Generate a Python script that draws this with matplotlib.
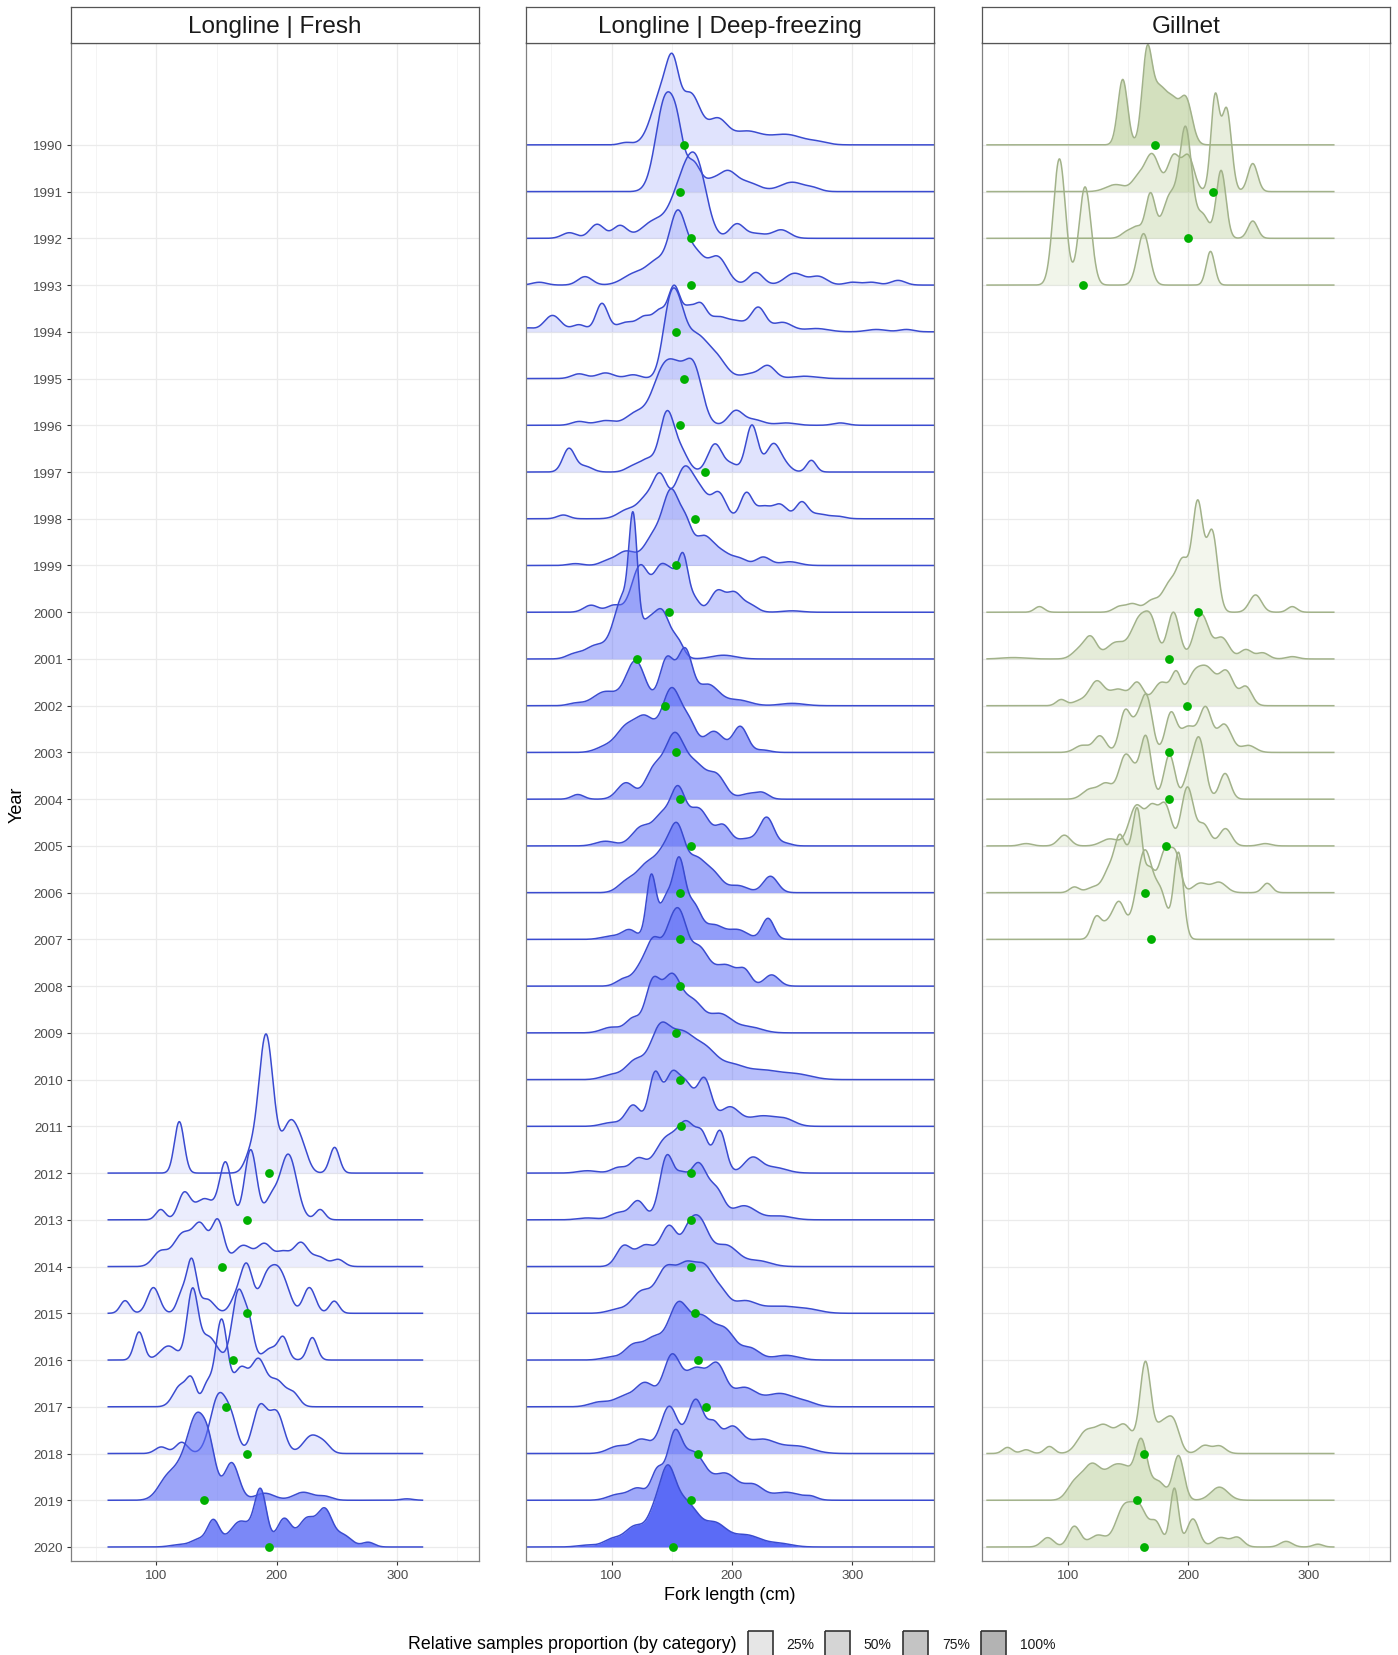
import numpy as np
import matplotlib
matplotlib.use("Agg")
import matplotlib.pyplot as plt
from matplotlib.patches import Rectangle

plt.rcParams["font.family"] = ["Liberation Sans", "DejaVu Sans"]

# ---- data ---------------------------------------------------------------
# every ridge is a small set of bumps: (fork length cm, height in rows, width cm)
all_years = list(range(1990, 2021))

fresh_years = list(range(2012, 2021))
fresh_peaks = [
    [(119, 1.1, 4), (178, 0.35, 5), (191, 2.95, 6), (211.5, 1.1, 7), (222, 0.3, 5), (248, 0.55, 4)],
    [(103.6, 0.22, 4), (123, 0.55, 5), (140, 0.45, 8), (157.5, 1.2, 5), (178.3, 1.5, 5), (195, 0.4, 5), (209.5, 1.4, 7), (236, 0.22, 4)],
    [(103, 0.3, 6), (122, 0.7, 8), (137, 0.8, 6), (151, 0.95, 5), (172, 0.45, 8), (190, 0.45, 6), (205, 0.3, 6), (220, 0.5, 6), (235, 0.2, 6), (251, 0.15, 5)],
    [(74, 0.27, 4), (97.5, 0.55, 5), (121, 0.4, 4), (129.3, 1.1, 4), (142, 0.3, 6), (166, 0.3, 5), (175, 1.0, 5), (192, 0.8, 6), (201, 0.6, 5), (208, 0.4, 5), (227, 0.55, 5), (247.7, 0.26, 4)],
    [(85.6, 0.6, 4), (110, 0.3, 7), (129.9, 1.45, 4.5), (143, 0.5, 7), (168, 1.45, 5), (177, 0.7, 4), (195, 0.25, 6), (205.4, 0.45, 4), (229.5, 0.48, 4)],
    [(120, 0.45, 6), (129.3, 0.5, 4), (142, 0.45, 4), (154, 1.85, 5), (170, 0.8, 6), (184.6, 0.95, 6), (200, 0.55, 7), (214, 0.25, 5)],
    [(104, 0.14, 5), (121, 0.24, 5), (152, 1.25, 7), (163, 0.5, 5), (186, 1.0, 6), (200, 0.85, 6), (229, 0.38, 7), (240, 0.15, 5)],
    [(110, 0.5, 8), (124, 0.7, 7), (133, 1.25, 6), (143, 1.2, 6), (162.5, 0.8, 6), (190, 0.15, 8), (222, 0.17, 8), (240, 0.08, 6), (308, 0.03, 5)],
    [(120, 0.05, 8), (135, 0.15, 6), (147.3, 0.55, 5), (170, 0.55, 9), (186.6, 1.15, 5), (206, 0.6, 6), (225, 0.6, 7), (240, 0.75, 6), (255, 0.25, 7), (276, 0.1, 5)],
]
fresh_mean = [193.5, 175.2, 154.2, 175.2, 163.9, 157.5, 175.2, 139.6, 193.5]
fresh_prop = [0.02, 0.02, 0.02, 0.02, 0.03, 0.03, 0.05, 0.56, 0.78]

deep_years = list(range(1990, 2021))
deep_peaks = [
    [(112, 0.05, 5), (143, 1.2, 9), (151, 0.95, 5), (166, 1.05, 8), (188, 0.52, 8), (212, 0.28, 12), (245, 0.22, 14), (272, 0.05, 8)],
    [(145, 2.0, 8), (155, 0.7, 5), (168, 0.6, 6), (183, 0.2, 6), (196, 0.38, 7), (212, 0.2, 10), (250, 0.2, 10), (268, 0.06, 6)],
    [(65, 0.12, 6), (88, 0.3, 6), (107, 0.27, 6), (135, 0.35, 10), (160, 1.2, 10), (172, 1.1, 8), (204, 0.3, 6), (220, 0.1, 8), (241, 0.18, 7)],
    [(40, 0.06, 6), (78, 0.18, 6), (120, 0.25, 10), (138, 0.45, 8), (155, 1.5, 7), (170, 0.6, 7), (188, 0.6, 8), (220, 0.27, 6), (252, 0.25, 8), (272, 0.18, 7), (300, 0.06, 6), (316, 0.06, 6), (338, 0.1, 6)],
    [(30, 0.08, 6), (51, 0.35, 7), (73, 0.15, 6), (92, 0.6, 5), (112, 0.2, 8), (128, 0.3, 6), (140, 0.4, 5), (152, 0.95, 5), (164, 0.45, 5), (174, 0.5, 5), (188, 0.3, 8), (205, 0.2, 8), (222, 0.5, 6), (242, 0.2, 8), (270, 0.07, 10), (320, 0.05, 8), (345, 0.05, 6)],
    [(73, 0.1, 6), (95, 0.12, 7), (118, 0.08, 6), (148, 1.3, 6), (156, 0.9, 6), (170, 0.9, 10), (188, 0.35, 8), (216, 0.1, 8), (230, 0.26, 6), (260, 0.05, 10)],
    [(73, 0.08, 6), (95, 0.1, 8), (120, 0.25, 8), (142, 1.0, 9), (156, 0.9, 9), (169, 1.0, 7), (203, 0.3, 6), (218, 0.12, 8), (245, 0.05, 8), (290, 0.05, 6)],
    [(64.6, 0.5, 5), (78, 0.12, 6), (118, 0.12, 6), (130, 0.25, 6), (146, 1.25, 6), (158, 0.4, 6), (186, 0.6, 6), (200, 0.15, 5), (216.6, 1.0, 5), (234.5, 0.6, 6), (245, 0.1, 5), (266, 0.25, 4)],
    [(60, 0.08, 5), (114, 0.2, 8), (128, 0.35, 6), (140, 0.9, 6), (161, 1.1, 8), (175, 0.4, 6), (189, 0.55, 6), (212, 0.55, 5), (226, 0.25, 6), (240, 0.3, 6), (258, 0.35, 5), (272, 0.1, 7), (288, 0.05, 6)],
    [(70, 0.04, 6), (96, 0.08, 6), (112, 0.3, 8), (135, 0.6, 8), (150, 1.5, 7), (162, 0.6, 5), (176, 0.6, 8), (192, 0.25, 8), (207, 0.12, 6), (226, 0.18, 6), (248, 0.08, 8)],
    [(83, 0.15, 6), (102, 0.15, 6), (124, 1.0, 7), (141, 0.9, 6), (151, 0.6, 5), (159.5, 1.05, 4), (168, 0.3, 5), (188, 0.45, 6), (202, 0.4, 6), (215, 0.15, 6), (250, 0.03, 8)],
    [(68, 0.08, 6), (88, 0.3, 10), (104, 0.5, 6), (108, 0.4, 5), (112, 0.6, 5), (118, 2.5, 3.5), (130, 0.8, 8), (143, 0.8, 6), (155, 0.35, 5), (193, 0.08, 10)],
    [(70, 0.05, 6), (95, 0.3, 10), (120, 0.95, 8), (146, 1.0, 6), (161, 1.15, 6), (180, 0.45, 9), (205, 0.12, 10), (250, 0.05, 10)],
    [(95, 0.12, 8), (112, 0.5, 8), (128, 0.7, 8), (150, 1.35, 8), (165, 0.5, 6), (185, 0.45, 8), (207, 0.55, 6), (226, 0.05, 6)],
    [(72, 0.1, 5), (112, 0.35, 7), (135, 0.6, 7), (152, 1.3, 8), (170, 0.7, 9), (188, 0.45, 7), (215, 0.12, 8), (226, 0.1, 5)],
    [(95, 0.1, 8), (125, 0.4, 8), (142, 0.6, 7), (155, 1.05, 6), (172, 0.8, 9), (193, 0.4, 6), (212, 0.15, 8), (229, 0.6, 6), (245, 0.05, 5)],
    [(112, 0.2, 7), (130, 0.6, 9), (145, 0.7, 7), (155, 1.1, 6), (170, 0.7, 8), (185, 0.35, 7), (205, 0.15, 8), (232, 0.35, 6)],
    [(100, 0.07, 8), (115, 0.2, 6), (133, 1.35, 4), (145, 0.8, 5), (156, 1.6, 5), (168, 0.7, 6), (185, 0.3, 8), (205, 0.2, 8), (230, 0.45, 5)],
    [(110, 0.15, 6), (124, 0.35, 6), (135, 0.9, 6), (148, 0.9, 6), (157, 1.2, 6), (172, 0.8, 8), (195, 0.45, 10), (211, 0.25, 5), (233, 0.24, 6)],
    [(100, 0.12, 8), (118, 0.3, 6), (134, 1.0, 6), (150, 1.2, 8), (168, 0.6, 8), (190, 0.4, 10), (215, 0.12, 10)],
    [(100, 0.1, 8), (120, 0.4, 8), (140, 1.0, 8), (158, 0.9, 10), (178, 0.6, 10), (200, 0.25, 10), (225, 0.2, 15), (255, 0.1, 12)],
    [(100, 0.08, 8), (118, 0.45, 6), (136, 1.1, 5), (150, 1.05, 6), (162, 0.8, 6), (177, 1.0, 6), (198, 0.4, 8), (225, 0.22, 12), (245, 0.12, 8)],
    [(80, 0.05, 8), (106, 0.12, 6), (122, 0.3, 6), (145, 0.7, 9), (163, 1.0, 8), (176, 0.6, 5), (190, 0.9, 5), (217, 0.32, 7), (235, 0.12, 10)],
    [(80, 0.04, 8), (106, 0.15, 7), (122, 0.4, 6), (146, 1.35, 6), (158, 0.6, 5), (172, 1.2, 8), (188, 0.5, 6), (210, 0.3, 10), (240, 0.08, 10)],
    [(110, 0.42, 6), (128, 0.45, 8), (148, 0.85, 7), (163, 0.3, 5), (172, 1.0, 8), (195, 0.45, 10), (222, 0.12, 10)],
    [(105, 0.08, 8), (125, 0.45, 8), (145, 0.9, 8), (162, 0.9, 8), (178, 0.9, 8), (192, 0.3, 6), (210, 0.25, 10), (240, 0.15, 15), (265, 0.06, 10)],
    [(100, 0.06, 8), (118, 0.3, 7), (135, 0.45, 8), (155, 1.1, 8), (175, 0.9, 10), (195, 0.55, 8), (215, 0.25, 8), (245, 0.1, 10)],
    [(90, 0.1, 8), (110, 0.2, 8), (128, 0.5, 8), (150, 1.05, 7), (170, 0.8, 9), (188, 0.8, 7), (210, 0.4, 10), (240, 0.28, 12), (262, 0.08, 8)],
    [(105, 0.15, 8), (125, 0.3, 8), (148, 1.0, 7), (170, 1.15, 7), (185, 0.5, 5), (200, 0.55, 8), (225, 0.3, 12), (255, 0.15, 12)],
    [(105, 0.12, 8), (122, 0.25, 7), (138, 0.6, 5), (152, 1.2, 6), (168, 1.0, 10), (195, 0.55, 10), (218, 0.3, 8), (245, 0.17, 12), (266, 0.06, 5)],
    [(80, 0.04, 8), (100, 0.15, 7), (120, 0.45, 9), (136, 0.6, 6), (146, 1.2, 6), (156, 0.85, 8), (168, 0.45, 7), (185, 0.5, 10), (212, 0.25, 12), (240, 0.07, 10)],
]
deep_mean = [160.0, 157.2, 166.0, 166.0, 153.9, 160.0, 157.2, 177.9, 169.0, 153.9,
             148.0, 121.3, 144.8, 153.9, 157.2, 166.0, 157.2, 157.2, 157.2, 153.9,
             157.2, 157.3, 166.4, 166.4, 166.4, 169.4, 172.2, 178.3, 172.2, 166.4, 151.2]
deep_prop = [0.10, 0.10, 0.10, 0.10, 0.10, 0.10, 0.10, 0.10, 0.10, 0.25,
             0.25, 0.37, 0.53, 0.55, 0.49, 0.49, 0.53, 0.63, 0.48, 0.40,
             0.37, 0.33, 0.27, 0.31, 0.33, 0.27, 0.59, 0.47, 0.37, 0.53, 1.00]

gill_years = [1990, 1991, 1992, 1993, 2000, 2001, 2002, 2003, 2004, 2005, 2006, 2007, 2018, 2019, 2020]
gill_peaks = [
    [(145.7, 1.4, 4), (165.7, 1.7, 4), (176, 1.2, 7), (188, 0.65, 5), (198.3, 0.95, 5)],
    [(140, 0.15, 8), (158, 0.25, 5), (170, 0.8, 6), (188, 0.75, 5), (200, 0.75, 5), (222.4, 2.0, 3.5), (232, 1.75, 4), (253.7, 0.6, 4)],
    [(150, 0.15, 5), (158, 0.2, 4), (168.7, 0.95, 4), (185, 0.9, 6), (198, 2.3, 5), (212, 0.5, 5), (227.4, 1.45, 4), (253.7, 0.37, 4)],
    [(93.1, 2.7, 5), (114.4, 2.1, 5), (163, 1.1, 5), (218.6, 0.72, 3.5)],
    [(76.5, 0.12, 4), (143, 0.12, 5), (154, 0.17, 5), (170, 0.25, 6), (185, 0.6, 6), (196, 1.0, 5), (208, 2.3, 4.5), (220, 1.7, 4.5), (256, 0.37, 5), (286.5, 0.12, 4)],
    [(55, 0.03, 10), (110, 0.2, 6), (119.3, 0.42, 5), (140, 0.35, 8), (160, 0.85, 7), (170, 0.6, 5), (187.8, 1.0, 5), (211, 0.95, 6), (228, 0.45, 6), (248, 0.2, 5), (262, 0.13, 5), (286.5, 0.05, 5)],
    [(94.5, 0.13, 4), (110, 0.1, 6), (124, 0.5, 6), (142, 0.35, 8), (158, 0.45, 5), (178, 0.5, 7), (190.3, 0.6, 4), (204, 0.55, 6), (216, 0.75, 7), (232, 0.7, 6), (248, 0.4, 5)],
    [(112, 0.15, 6), (126.8, 0.35, 5), (147.5, 0.85, 4.5), (158, 0.6, 5), (166, 1.05, 4.5), (185.6, 0.8, 4.5), (200, 0.55, 7), (214.6, 0.9, 5), (230, 0.6, 6), (250, 0.15, 6)],
    [(118, 0.2, 6), (131.8, 0.33, 6), (147, 0.8, 5), (155, 0.45, 5), (165, 1.3, 4.5), (184.5, 0.95, 4.5), (200, 0.4, 4), (209, 1.3, 5), (230.7, 0.55, 4.5)],
    [(65.5, 0.05, 5), (97.2, 0.23, 5), (135, 0.15, 7), (157, 0.85, 6), (170, 0.75, 5), (181, 0.85, 5), (199.4, 1.25, 5), (213, 0.45, 5), (231, 0.37, 5), (264, 0.05, 5)],
    [(105.5, 0.12, 4), (122, 0.12, 6), (135, 0.5, 5), (143, 0.95, 4), (152, 0.8, 5), (158.3, 1.4, 3.5), (168, 0.5, 4), (181, 0.9, 5), (190, 0.7, 4), (210, 0.2, 6), (225.7, 0.22, 6), (265.7, 0.2, 4)],
    [(123.5, 0.45, 4), (133, 0.3, 5), (142.8, 0.75, 5), (164, 1.9, 7), (178, 0.8, 5), (192, 1.85, 4)],
    [(50, 0.13, 4), (65.4, 0.08, 4), (84.8, 0.15, 4), (115, 0.45, 7), (130, 0.55, 7), (147, 0.6, 7), (164.5, 1.9, 4.5), (178, 0.6, 6), (188, 0.6, 5), (213.6, 0.17, 5), (226, 0.16, 5)],
    [(105, 0.3, 6), (120, 0.75, 8), (140, 0.7, 8), (150, 0.3, 5), (161, 1.25, 5), (175, 0.4, 6), (192, 0.95, 4.5), (226, 0.28, 7)],
    [(83.4, 0.2, 5), (105.5, 0.44, 5), (125, 0.25, 7), (147, 0.85, 7), (160, 0.75, 6), (173.4, 0.5, 5), (188.6, 1.25, 3.5), (204, 0.6, 5), (227, 0.2, 6), (241, 0.2, 5), (281.4, 0.12, 5), (307.8, 0.06, 4)],
]
gill_mean = [172.6, 220.5, 199.7, 112.5, 208.0, 184.3, 199.2, 184.3, 184.3, 181.5, 164.4, 169.1, 163.7, 157.6, 163.7]
gill_prop = [0.37, 0.14, 0.19, 0.04, 0.02, 0.17, 0.14, 0.08, 0.08, 0.06, 0.03, 0.0, 0.08, 0.29, 0.21]

legend_levels = [0.25, 0.50, 0.75, 1.00]
legend_labels = ["25%", "50%", "75%", "100%"]


def ridge_height(x, peaks):
    y = np.zeros_like(x)
    for c, h, s in peaks:
        y += h * np.exp(-0.5 * ((x - c) / s) ** 2)
    return y


def prop_alpha(p):
    return 0.1 + 0.9 * p


W, H = 1398, 1656
fig = plt.figure(figsize=(W / 100, H / 100), dpi=100)

panels = [
    ("Longline | Fresh", 70.7, fresh_years, fresh_peaks, fresh_mean, fresh_prop, (60, 321), "#5b6bf6", "#3a4bd0"),
    ("Longline | Deep-freezing", 525.8, deep_years, deep_peaks, deep_mean, deep_prop, (20, 380), "#5b6bf6", "#3a4bd0"),
    ("Gillnet", 982.0, gill_years, gill_peaks, gill_mean, gill_prop, (33, 321), "#9ab86a", "#a2b28a"),
]
pw = 408.0
top, bottom = 43.5, 1562.0

for i, (title, left, yrs, peaks, means, props, xr, fillc, linec) in enumerate(panels):
    ax = fig.add_axes([left / W, 1 - bottom / H, pw / W, (bottom - top) / H])
    ax.set_xlim(28.8, 367.7)
    ax.set_ylim(2020.3, 1987.81)
    for v in [50, 150, 250, 350]:
        ax.axvline(v, color="#f0f0f0", lw=0.5, zorder=0)
    for v in [100, 200, 300]:
        ax.axvline(v, color="#ebebeb", lw=0.9, zorder=0)
    for yv in all_years:
        ax.axhline(yv, color="#ebebeb", lw=0.9, zorder=0)

    x = np.linspace(xr[0], xr[1], 1200)
    for k, (yr, pk) in enumerate(zip(yrs, peaks)):
        h = ridge_height(x, pk)
        ax.fill_between(x, yr, yr - h, color=fillc, alpha=prop_alpha(props[k]), lw=0, zorder=2 + k * 0.01)
        ax.plot(x, yr - h, color=linec, lw=1.1, zorder=2 + k * 0.01 + 0.005)
    ax.scatter(means, yrs, s=40, color="#00b000", zorder=5, linewidths=0)

    ax.set_xticks([100, 200, 300])
    ax.set_yticks(all_years)
    ax.tick_params(axis="both", length=3, width=0.8, color="#333333", labelsize=9.6,
                   labelcolor="#4d4d4d", pad=2.5)
    if i > 0:
        ax.tick_params(axis="y", length=0, labelleft=False)
    for s in ax.spines.values():
        s.set_color("#808080")
        s.set_linewidth(0.9)

    sax = fig.add_axes([left / W, 1 - top / H, pw / W, (top - 8) / H])
    sax.set_xticks([])
    sax.set_yticks([])
    for s in sax.spines.values():
        s.set_color("#555555")
        s.set_linewidth(0.9)
    sax.text(0.5, 0.46, title, ha="center", va="center", fontsize=17.5, color="#1a1a1a",
             transform=sax.transAxes)

# overlay for axis titles and legend, in pixel coordinates
ov = fig.add_axes([0, 0, 1, 1])
ov.set_xlim(0, W)
ov.set_ylim(H, 0)
ov.axis("off")
ov.text(730, 1596, "Fork length (cm)", ha="center", va="center", fontsize=13)
ov.text(17, 805, "Year", ha="center", va="center", rotation=90, fontsize=13)
ov.text(407.6, 1645, "Relative samples proportion (by category)", ha="left", va="center", fontsize=12.8)
box_x = [747.6, 824.7, 902.8, 981.0]
for bx, lv, lab in zip(box_x, legend_levels, legend_labels):
    ov.add_patch(Rectangle((bx, 1632), 25, 26, facecolor="#b3b3b3", alpha=prop_alpha(lv),
                           edgecolor="none"))
    ov.add_patch(Rectangle((bx, 1632), 25, 26, facecolor="none", edgecolor="#333333", lw=1.2))
    ov.text(bx + 39, 1645, lab, ha="left", va="center", fontsize=10, color="#1a1a1a")

fig.savefig("out.png", dpi=100)
